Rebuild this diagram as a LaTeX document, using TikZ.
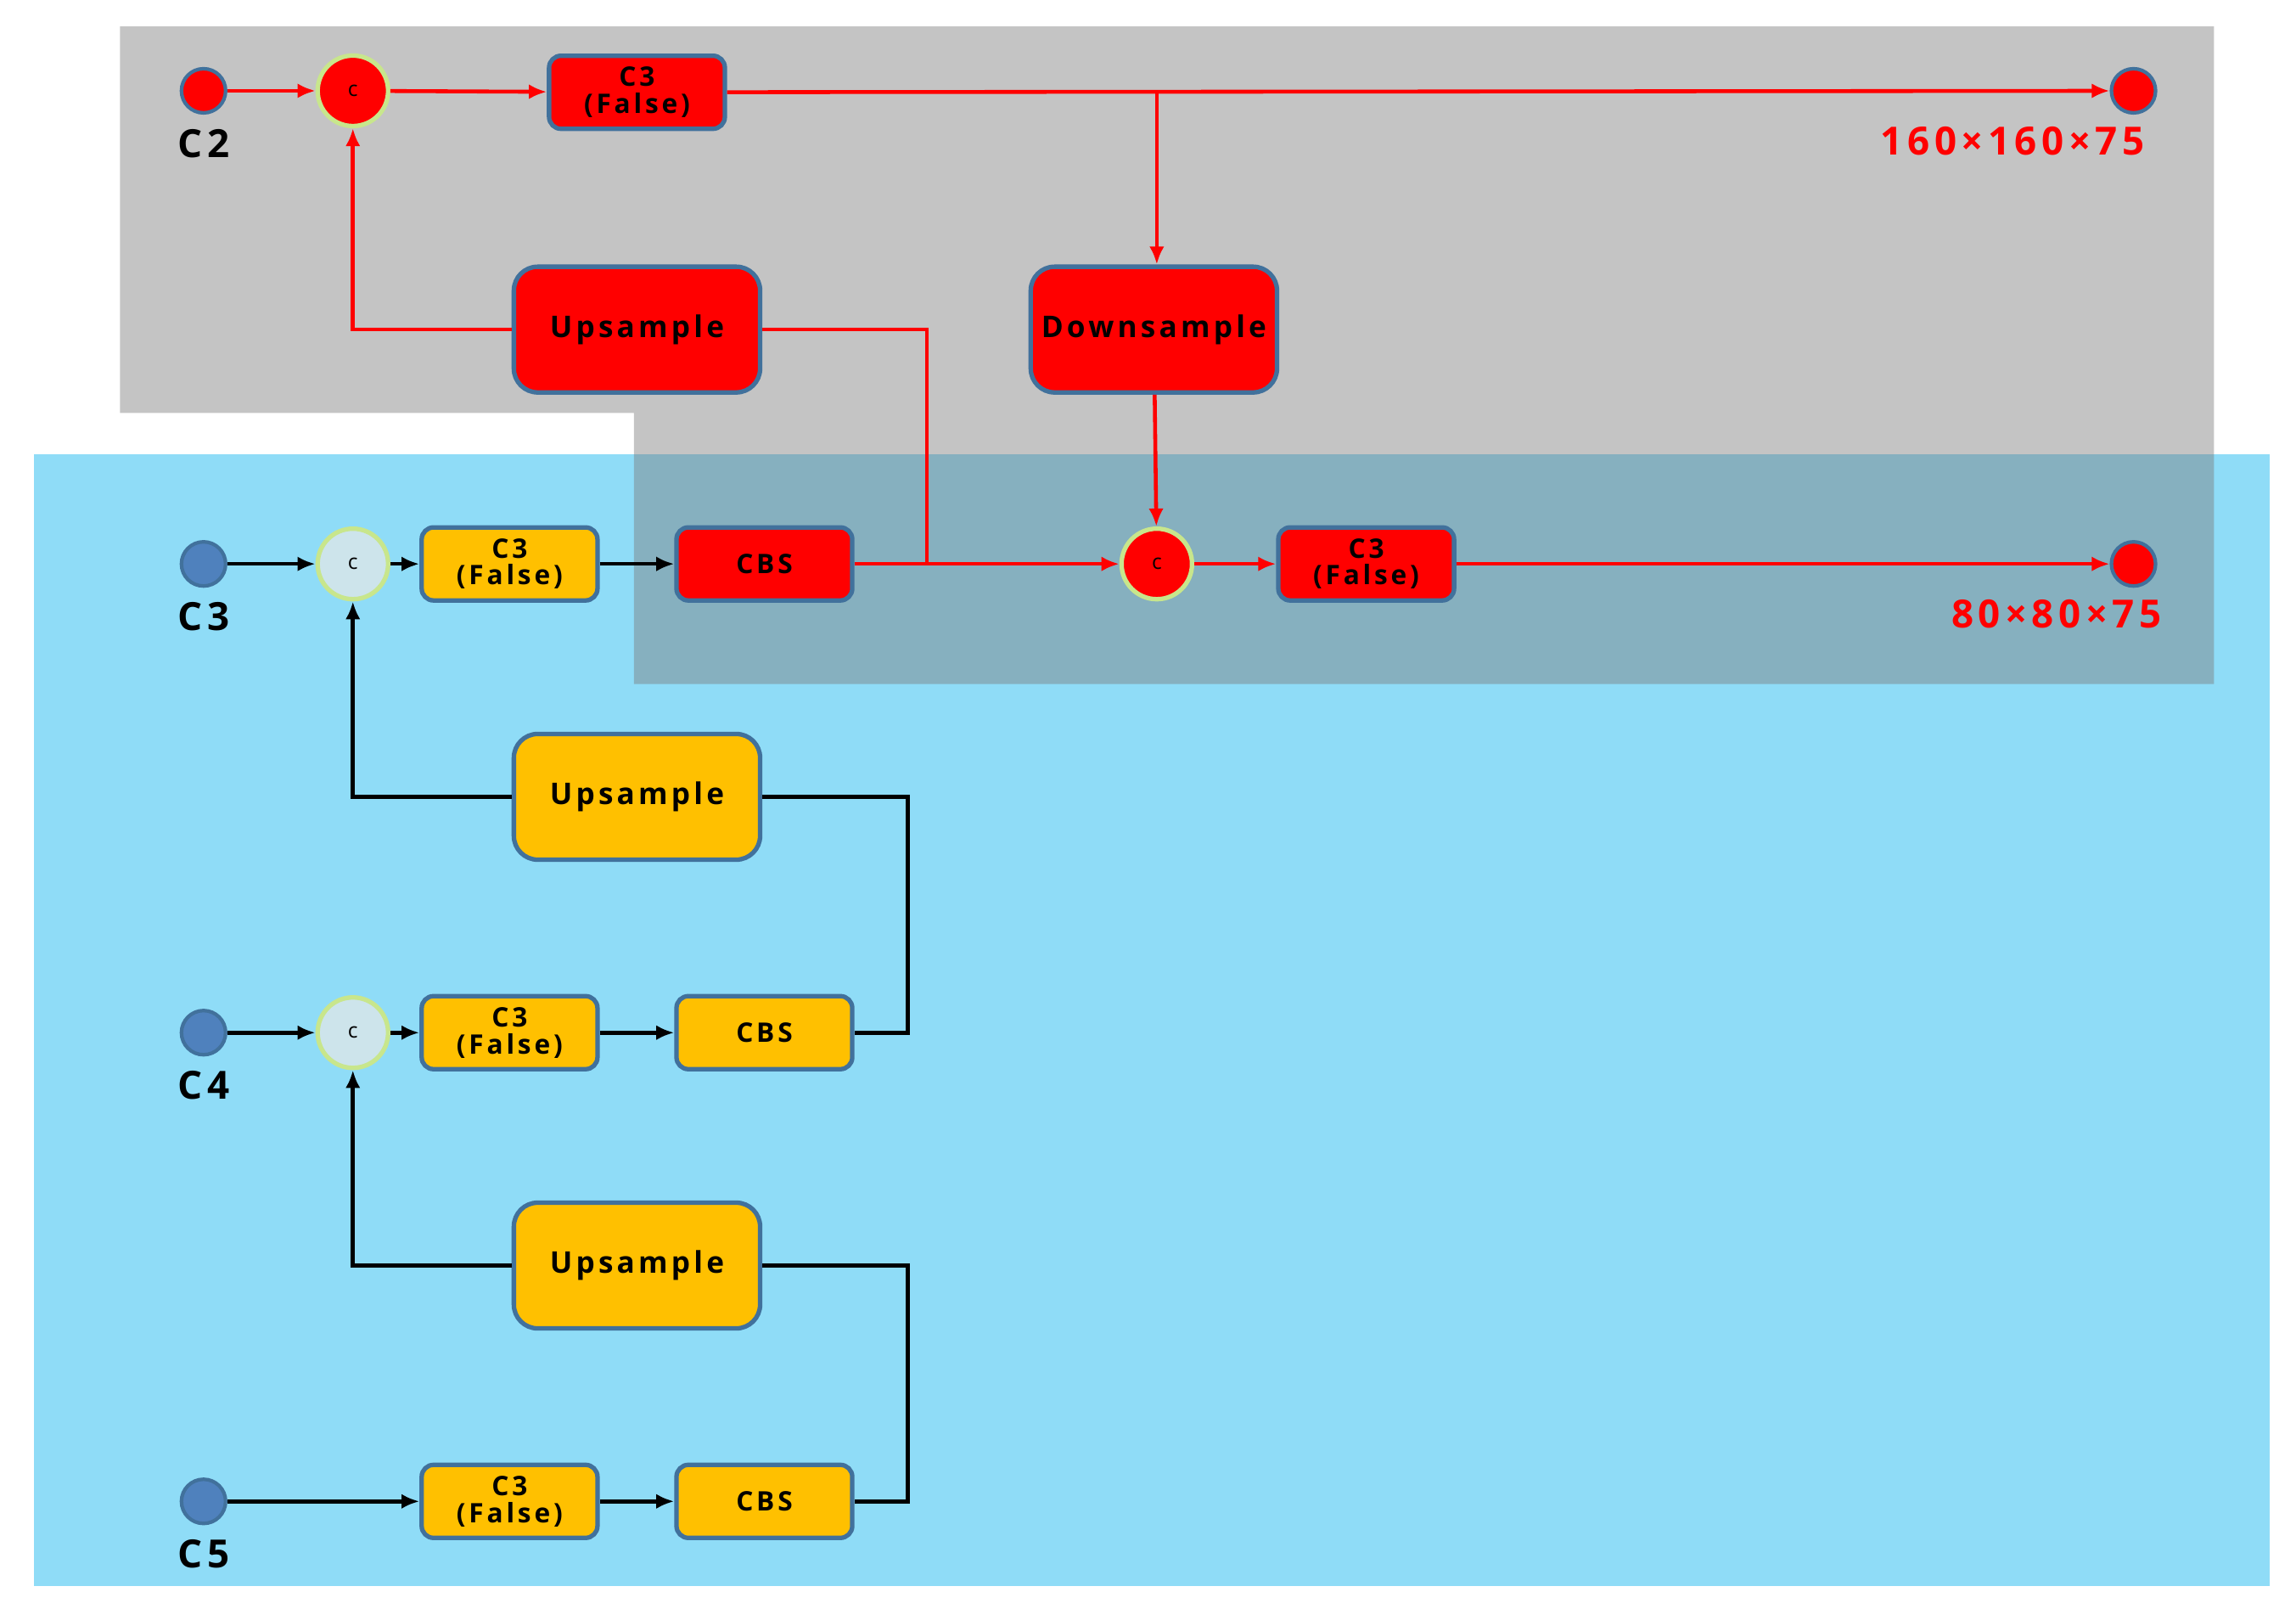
\documentclass[tikz,border=0pt]{standalone}
\usepackage{fontspec}
\setmainfont{Open Sans}[LetterSpace=12]
\usepackage{tikz}
\usetikzlibrary{arrows.meta, positioning}
\definecolor{bgblue}{RGB}{143,220,247}
\definecolor{bggray}{RGB}{123,123,123}
\definecolor{boxred}{RGB}{255,0,0}
\definecolor{boxyellow}{RGB}{255,192,0}
\definecolor{edgeblue}{RGB}{65,113,156}
\definecolor{dotblue}{RGB}{79,129,189}
\definecolor{ringgreen}{RGB}{200,230,140}
\definecolor{catblue}{RGB}{205,228,235}

\begin{document}
\begin{tikzpicture}[x=0.01725cm, y=-0.01725cm,
        box/.style={rectangle, draw=edgeblue, line width=1.5pt, rounded corners=4pt, minimum height=0.86cm, minimum width=2.07cm, align=center, font=\bfseries\fontsize{9}{9}\selectfont, inner sep=0pt},
        bigbox/.style={box, rounded corners=8pt, minimum height=1.48cm, minimum width=2.9cm, font=\bfseries\fontsize{10}{10}\selectfont},
        dot/.style={circle, draw=edgeblue, line width=1.2pt, minimum size=0.52cm, inner sep=0pt},
        cat/.style={circle, draw=ringgreen, line width=1.5pt, minimum size=0.83cm, inner sep=0pt, font=\fontsize{7}{7}\selectfont},
        lab/.style={font=\bfseries\fontsize{13}{13}\selectfont},
        arrow/.style={-{Latex[length=6pt,width=5pt]}, line width=1.3pt},
        link/.style={line width=1.3pt}
    ]
        \useasboundingbox (0,0) rectangle (1568,1106);
        % backgrounds
        \fill[bgblue] (23,310) rectangle (1550,1083);
        \fill[bggray, opacity=0.446] (82,18) -- (1512,18) -- (1512,467) -- (433,467) -- (433,282) -- (82,282) -- cycle;

        % top branch
        \node[dot, fill=boxred] (c2) at (139,62) {};
        \node[lab, below=0.05cm of c2] {C2};
        \node[cat, fill=boxred] (cat1) at (241,62) {c};
        \node[box, fill=boxred] (c3a) at (435,63) {C3\\(False)};
        \node[dot, fill=boxred] (out1) at (1457,62) {};
        \node[lab, text=boxred, below left=0.1cm and -0.45cm of out1] {160×160×75};
        \node[bigbox, fill=boxred] (up1) at (435,225) {Upsample};
        \node[bigbox, fill=boxred] (down) at (788,225) {Downsample};
        \coordinate (split) at (790,62);

        % second row
        \node[dot, fill=dotblue] (c3) at (139,385) {};
        \node[lab, below=0.05cm of c3] {C3};
        \node[cat, fill=catblue] (cat2) at (241,385) {c};
        \node[box, fill=boxyellow] (c3b) at (348,385) {C3\\(False)};
        \node[box, fill=boxred] (cbs1) at (522,385) {CBS};
        \node[cat, fill=boxred] (cat3) at (790,385) {c};
        \node[box, fill=boxred] (c3c) at (933,385) {C3\\(False)};
        \node[dot, fill=boxred] (out2) at (1457,385) {};
        \node[lab, text=boxred, below left=0.1cm and -0.65cm of out2] {80×80×75};
        \node[bigbox, fill=boxyellow] (up2) at (435,544) {Upsample};

        % third row
        \node[dot, fill=dotblue] (c4) at (139,705) {};
        \node[lab, below=0.05cm of c4] {C4};
        \node[cat, fill=catblue] (cat4) at (241,705) {c};
        \node[box, fill=boxyellow] (c3d) at (348,705) {C3\\(False)};
        \node[box, fill=boxyellow] (cbs2) at (522,705) {CBS};
        \node[bigbox, fill=boxyellow] (up3) at (435,864) {Upsample};

        % fourth row
        \node[dot, fill=dotblue] (c5) at (139,1025) {};
        \node[lab, below=0.05cm of c5] {C5};
        \node[box, fill=boxyellow] (c3e) at (348,1025) {C3\\(False)};
        \node[box, fill=boxyellow] (cbs3) at (522,1025) {CBS};

        % red connectors
        \draw[arrow, boxred] (c2) -- (cat1);
        \draw[arrow, boxred] (cat1) -- (c3a);
        \draw[arrow, boxred] (c3a) -- (out1);
        \draw[arrow, boxred] (split) -- (split |- down.north);
        \draw[arrow, boxred] (down) -- (cat3);
        \draw[arrow, boxred] (up1.west) -| (cat1.south);
        \draw[link, boxred] (up1.east) -- (633,225) -- (633,385);
        \draw[arrow, boxred] (cbs1) -- (cat3);
        \draw[arrow, boxred] (cat3) -- (c3c);
        \draw[arrow, boxred] (c3c) -- (out2);

        % black connectors
        \draw[arrow] (c3) -- (cat2);
        \draw[arrow] (cat2) -- (c3b);
        \draw[arrow] (c3b) -- (cbs1);
        \draw[arrow] (up2.west) -| (cat2.south);
        \draw[link] (up2.east) -- (620,544) |- (cbs2.east);
        \draw[arrow] (c4) -- (cat4);
        \draw[arrow] (cat4) -- (c3d);
        \draw[arrow] (c3d) -- (cbs2);
        \draw[arrow] (up3.west) -| (cat4.south);
        \draw[link] (up3.east) -- (620,864) |- (cbs3.east);
        \draw[arrow] (c5) -- (c3e);
        \draw[arrow] (c3e) -- (cbs3);
    \end{tikzpicture}
\end{document}
